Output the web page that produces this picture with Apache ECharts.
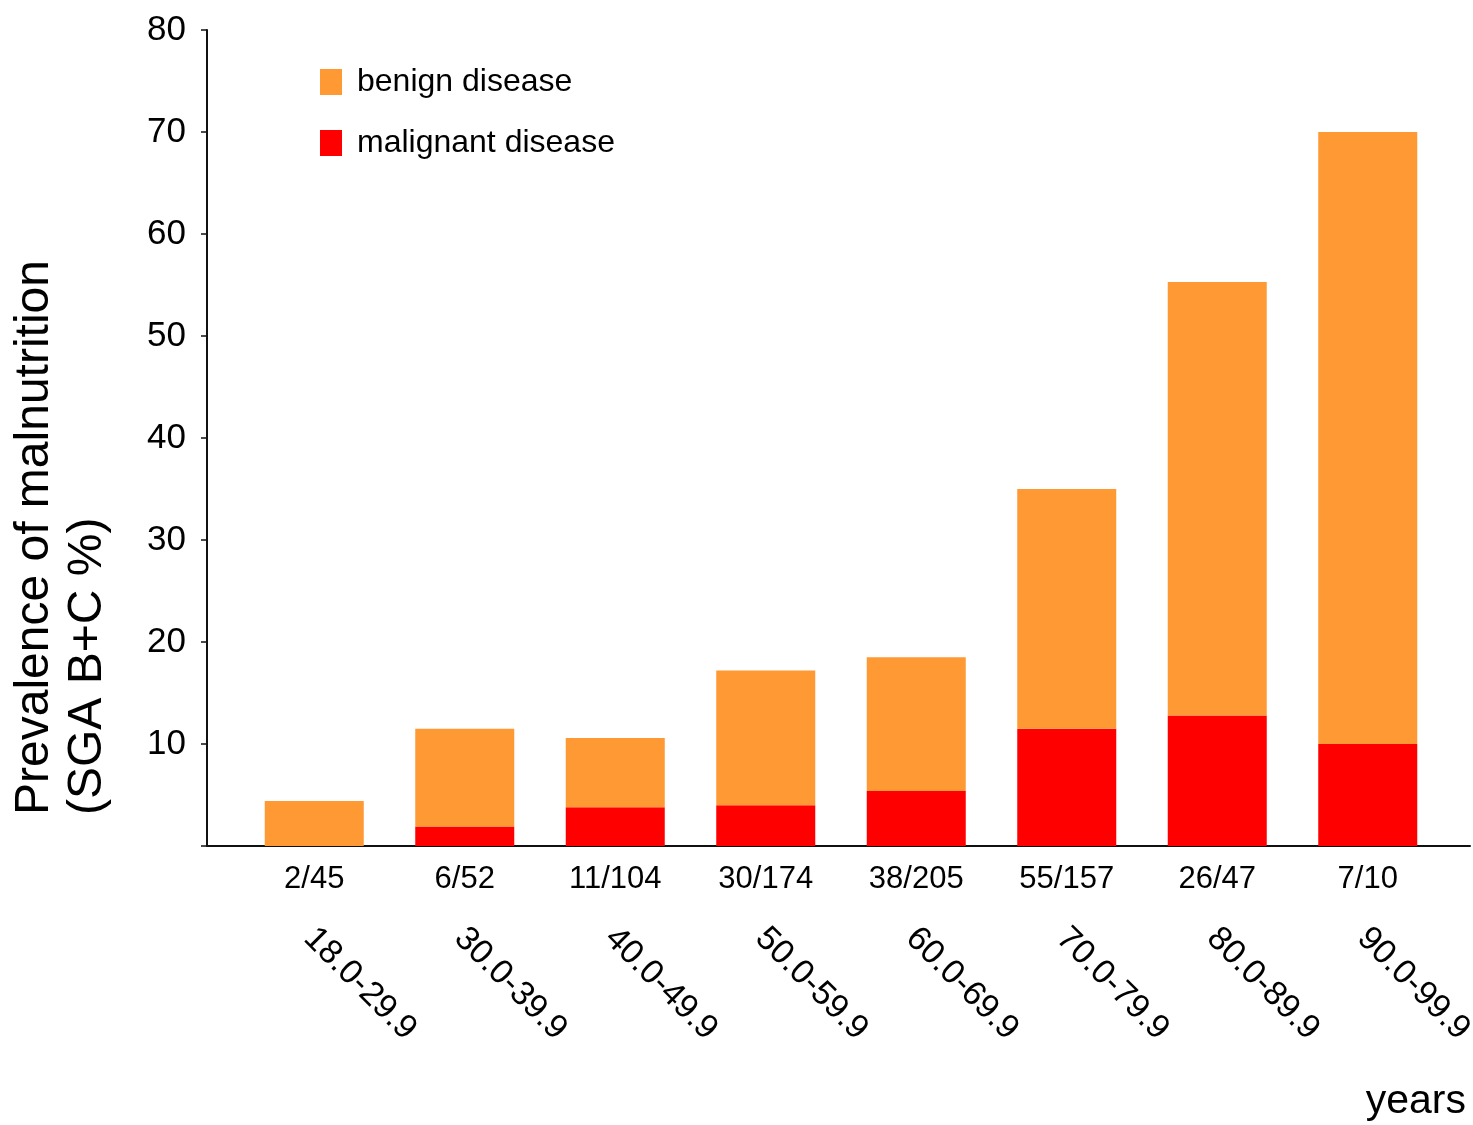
<!DOCTYPE html>
<html>
<head>
<meta charset="utf-8">
<script src="https://cdn.jsdelivr.net/npm/echarts@6/dist/echarts.min.js"></script>
<style>
html,body{margin:0;padding:0;background:#fff;}
#chart{width:1473px;height:1125px;}
</style>
</head>
<body>
<div id="chart"></div>
<script>
const fractionLabels = ['2/45','6/52','11/104','30/174','38/205','55/157','26/47','7/10'];
const ageLabels = ['18.0-29.9','30.0-39.9','40.0-49.9','50.0-59.9','60.0-69.9','70.0-79.9','80.0-89.9','90.0-99.9'];
const malignant = [0, 1.9, 3.8, 4.0, 5.4, 11.5, 12.8, 10.0];
const benign = [4.4, 9.6, 6.8, 13.2, 13.1, 23.5, 42.5, 60.0];
const yTicks = [0, 10, 20, 30, 40, 50, 60, 70, 80];

const FONT = '"Liberation Sans", Arial, sans-serif';
const chart = echarts.init(document.getElementById('chart'), null, {renderer: 'canvas'});

const option = {
  animation: false,
  backgroundColor: '#fff',
  textStyle: {fontFamily: FONT, color: '#000'},
  legend: {
    orient: 'vertical',
    left: 320, top: 66,
    padding: 0,
    itemWidth: 22, itemHeight: 26, itemGap: 29,
    icon: 'rect',
    data: ['benign disease', 'malignant disease'],
    textStyle: {fontFamily: FONT, fontSize: 32, color: '#000', padding: [6, 0, 0, 10]}
  },
  grid: [
    {left: 207, right: 3, top: 30, bottom: 279, outerBoundsMode: 'none', containLabel: false},
    {left: 239, width: 1204, top: 30, bottom: 279, outerBoundsMode: 'none', containLabel: false},
    {left: 234, width: 1204, top: 30, bottom: 279, outerBoundsMode: 'none', containLabel: false}
  ],
  xAxis: [
    {gridIndex: 0, type: 'value', min: 0, max: 1,
     axisLine: {show: true, lineStyle: {color: '#111', width: 2}},
     axisTick: {show: false}, axisLabel: {show: false}, splitLine: {show: false}},
    {gridIndex: 1, type: 'category', data: fractionLabels, position: 'bottom',
     axisLine: {show: false}, axisTick: {show: false}, splitLine: {show: false},
     axisLabel: {interval: 0, margin: 17, fontSize: 31, lineHeight: 32, color: '#000', fontFamily: FONT}},
    {gridIndex: 2, type: 'category', data: ageLabels, position: 'bottom',
     axisLine: {show: false}, axisTick: {show: false}, splitLine: {show: false},
     axisLabel: {interval: 0, margin: 87, rotate: -45, fontSize: 34, color: '#000', fontFamily: FONT}}
  ],
  yAxis: [
    {gridIndex: 0, type: 'value', min: yTicks[0], max: yTicks[yTicks.length - 1], interval: 10,
     axisLine: {show: true, lineStyle: {color: '#111', width: 2}},
     axisTick: {show: true, inside: false, length: 6, lineStyle: {color: '#111', width: 1.5}},
     splitLine: {show: false},
     axisLabel: {margin: 21, fontSize: 35, color: '#000', fontFamily: FONT,
       formatter: v => (v === 0 ? '' : String(v))}},
    {gridIndex: 1, type: 'value', min: yTicks[0], max: yTicks[yTicks.length - 1],
     show: false, splitLine: {show: false}},
    {gridIndex: 2, type: 'value', min: yTicks[0], max: yTicks[yTicks.length - 1],
     show: false, splitLine: {show: false}}
  ],
  series: [
    {name: 'malignant disease', type: 'bar', xAxisIndex: 1, yAxisIndex: 1, stack: 'total',
     barWidth: 99, data: malignant, itemStyle: {color: '#FF0000'}},
    {name: 'benign disease', type: 'bar', xAxisIndex: 1, yAxisIndex: 1, stack: 'total',
     barWidth: 99, data: benign, itemStyle: {color: '#FF9933'}}
  ],
  graphic: [
    {type: 'text', x: 35, y: 815, rotation: Math.PI / 2,
     style: {text: 'Prevalence of malnutrition', font: '48px ' + FONT, fill: '#000',
             textAlign: 'left', textVerticalAlign: 'middle'}},
    {type: 'text', x: 88, y: 815, rotation: Math.PI / 2,
     style: {text: '(SGA B+C %)', font: '48px ' + FONT, fill: '#000',
             textAlign: 'left', textVerticalAlign: 'middle'}},
    {type: 'text', x: 1466, y: 1122, 
     style: {text: 'years', font: '41px ' + FONT, fill: '#000',
             textAlign: 'right', textVerticalAlign: 'bottom'}}
  ]
};
chart.setOption(option);
</script>
</body>
</html>
